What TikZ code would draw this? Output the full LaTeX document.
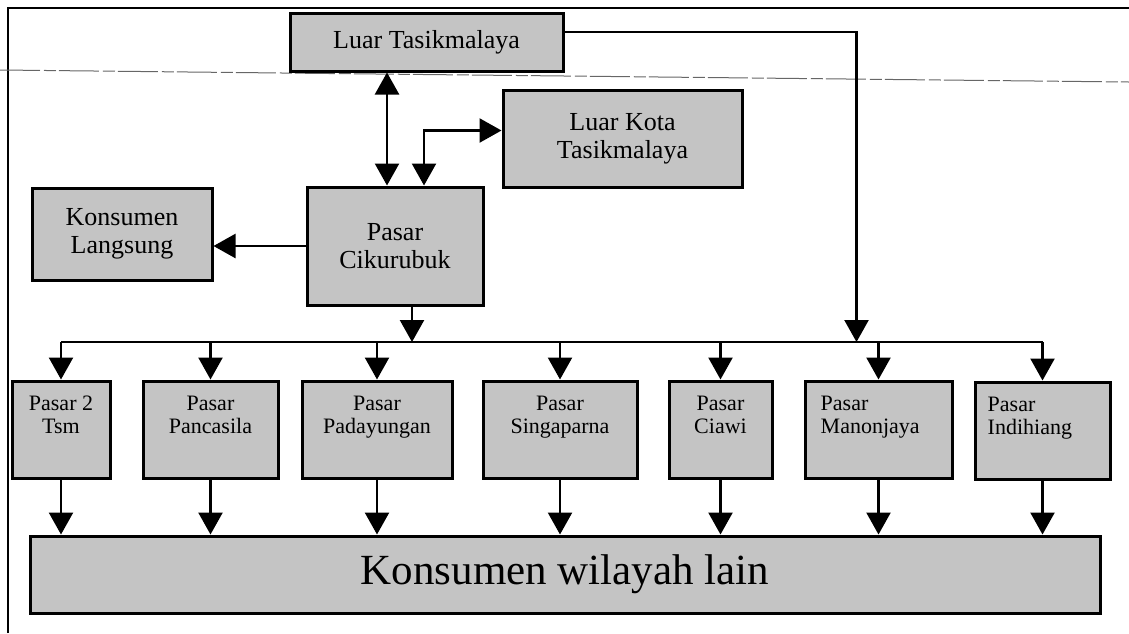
\documentclass[tikz,border=0pt]{standalone}
\usepackage{fontspec}
\setmainfont{Liberation Serif}
\usetikzlibrary{arrows.meta}
\begin{document}
\begin{tikzpicture}[x=1pt,y=-1pt,
box/.style={draw,line width=3pt,fill=black!23,inner sep=0pt},
midtext/.style={font=\fontsize{26}{28}\selectfont,align=center},
smalltext/.style={font=\fontsize{22}{23}\selectfont,inner sep=0pt},
arr/.style={line width=2.4pt,-{Triangle[length=22pt,width=24pt]}},
dblarr/.style={line width=2.4pt,{Triangle[length=22pt,width=24pt]}-{Triangle[length=22pt,width=24pt]}}]
\useasboundingbox (0,0) rectangle (1129,633);
\draw[line width=2.6pt] (8,633) -- (8,8) -- (1129,8);
\draw[line width=1pt,black!60,dash pattern=on 40pt off 4pt on 12pt off 3pt] (0,70) -- (1129,82);

\node[box,midtext,minimum width=273pt,minimum height=58pt] (lt) at (426.5,42) {Luar Tasikmalaya};
\node[box,midtext,minimum width=239pt,minimum height=97pt] (lk) at (622.5,138.5) {Luar Kota\\Tasikmalaya};
\node[box,midtext,minimum width=180pt,minimum height=92pt] (kl) at (122,234) {Konsumen\\Langsung};
\node[box,midtext,minimum width=176pt,minimum height=118pt] (pc) at (395,246) {Pasar\\Cikurubuk};

\node[box,minimum width=98pt,minimum height=97pt] (tsm) at (61,429.5) {};
\node[box,minimum width=135pt,minimum height=97pt] (pan) at (210.5,429.5) {};
\node[box,minimum width=150pt,minimum height=97pt] (pad) at (377,429.5) {};
\node[box,minimum width=154pt,minimum height=97pt] (sin) at (560,429.5) {};
\node[box,minimum width=103pt,minimum height=97pt] (cia) at (720.5,429.5) {};
\node[box,minimum width=147pt,minimum height=97pt] (man) at (878.5,429.5) {};
\node[box,minimum width=135pt,minimum height=97pt] (ind) at (1042.5,430.5) {};

\node[smalltext,align=center,anchor=north] (tsmtx) at ([yshift=-16pt]tsm.north) {Pasar 2\\Tsm};
\node[smalltext,align=center,anchor=north] (pantx) at ([yshift=-16pt]pan.north) {Pasar\\Pancasila};
\node[smalltext,align=center,anchor=north] (padtx) at ([yshift=-16pt]pad.north) {Pasar\\Padayungan};
\node[smalltext,align=center,anchor=north] (sintx) at ([yshift=-16pt]sin.north) {Pasar\\Singaparna};
\node[smalltext,align=center,anchor=north] (ciatx) at ([yshift=-16pt]cia.north) {Pasar\\Ciawi};
\node[smalltext,align=left,anchor=north west] (mantx) at ([xshift=17pt,yshift=-16pt]man.north west) {Pasar\\Manonjaya};
\node[smalltext,align=left,anchor=north west] (indtx) at ([xshift=14pt,yshift=-16pt]ind.north west) {Pasar\\Indihiang};

\node[box,minimum width=1070pt,minimum height=77pt,font=\fontsize{43}{45}\selectfont] (kw) at (565,574.5) {Konsumen wilayah lain};

\coordinate (busl) at (tsm.north |- 0,342);
\coordinate (busr) at (ind.north |- 0,342);
\draw[line width=2.4pt] (busl) -- (busr);

\draw[arr] (pc.west) -- (pc.west -| kl.east);
\draw[dblarr] ([xshift=-8pt]pc.north) -- ([xshift=-8pt]pc.north |- lt.south);
\draw[dblarr] ([xshift=29pt]pc.north) |- ([yshift=8pt]lk.west);
\draw[arr] ([xshift=17pt]pc.south) -- ([xshift=17pt]pc.south |- busl);
\draw[arr] ([yshift=10pt]lt.east) -| ([xshift=-22pt]man.north |- busl);

\foreach \n in {tsm,pan,pad,sin,cia,man,ind}{
  \draw[arr] (\n.north |- busl) -- (\n.north);
  \draw[arr] (\n.south) -- (\n.south |- kw.north);
}
\end{tikzpicture}
\end{document}
